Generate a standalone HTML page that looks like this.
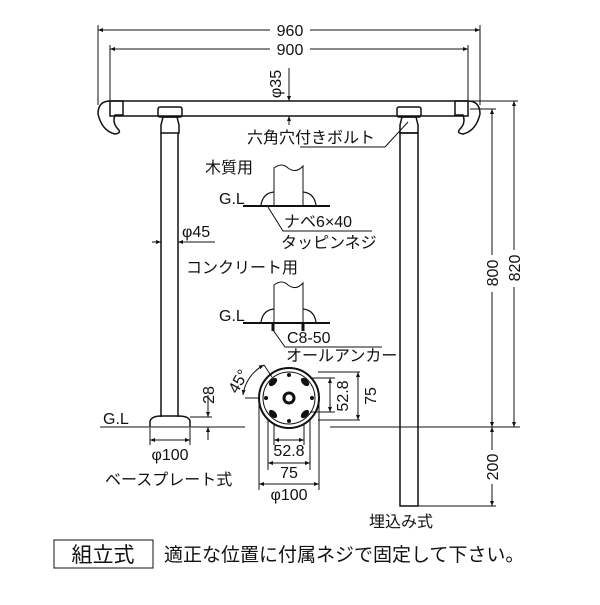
<!DOCTYPE html>
<html><head><meta charset="utf-8"><style>
body{margin:0;background:#fff}
svg text{font-family:"Liberation Sans","Noto Sans CJK JP",sans-serif;fill:#111}
</style></head><body>
<svg width="600" height="600" viewBox="0 0 600 600" xmlns="http://www.w3.org/2000/svg">
<defs><marker id="a" viewBox="0 0 10 10" refX="10" refY="5" markerWidth="7" markerHeight="5" orient="auto-start-reverse"><path d="M0,1 L10,5 L0,9 z" fill="#111"/></marker></defs>
<g stroke="#111" fill="none" stroke-width="1">
<line x1="98" y1="30" x2="270" y2="30" marker-start="url(#a)"/><line x1="310" y1="30" x2="480" y2="30" marker-end="url(#a)"/>
<line x1="98" y1="25" x2="98" y2="105"/><line x1="480" y1="25" x2="480" y2="105"/>
<line x1="110" y1="49" x2="270" y2="49" marker-start="url(#a)"/><line x1="310" y1="49" x2="468" y2="49" marker-end="url(#a)"/>
<line x1="110" y1="45" x2="110" y2="102"/><line x1="468" y1="45" x2="468" y2="102"/>
<line x1="289" y1="68" x2="289" y2="101" marker-end="url(#a)"/><line x1="289" y1="125" x2="289" y2="116" marker-end="url(#a)"/>
<rect x="110" y="101" width="358" height="15" stroke-width="1.5"/>
<path d="M110,101 h13 v14 h-8 q-3,8 3,14 q4,4 -3,5 q-13,-3 -17,-20 q0,-13 12,-13z" stroke-width="1.5"/>
<path d="M468,101 h-13 v14 h8 q3,8 -3,14 q-4,4 3,5 q13,-3 17,-20 q0,-13 -12,-13z" stroke-width="1.5"/>
<rect x="158" y="107" width="24" height="10" rx="2" stroke-width="1.5"/>
<path d="M163,117 l-2,8 q0,5 0,8 h18 q0,-3 0,-8 l-2,-8z" stroke-width="1.5"/>
<line x1="161" y1="133" x2="161" y2="417" stroke-width="1.5"/><line x1="178" y1="133" x2="178" y2="417" stroke-width="1.5"/>
<path d="M150,427 v-6 q2,-5 11,-5 h17 q11,0 12,5 v6" stroke-width="1.5"/>
<line x1="100" y1="427" x2="245" y2="427"/>
<line x1="190" y1="417" x2="212" y2="417"/>
<line x1="208" y1="395" x2="208" y2="417" marker-end="url(#a)"/><line x1="208" y1="440" x2="208" y2="427" marker-end="url(#a)"/>
<line x1="150" y1="428" x2="150" y2="445"/><line x1="190" y1="428" x2="190" y2="445"/>
<line x1="150" y1="440" x2="190" y2="440" marker-start="url(#a)" marker-end="url(#a)"/>
<line x1="152" y1="242" x2="161" y2="242" marker-end="url(#a)"/><line x1="215" y1="242" x2="178" y2="242" marker-end="url(#a)"/>
<rect x="397" y="107" width="24" height="10" rx="2" stroke-width="1.5"/>
<path d="M402,117 l-2,8 q0,5 0,8 h18 q0,-3 0,-8 l-2,-8z" stroke-width="1.5"/>
<rect x="400" y="133" width="18" height="373" stroke-width="1.5"/>
<line x1="330" y1="427" x2="520" y2="427"/>
<line x1="385" y1="147" x2="300" y2="147"/><line x1="385" y1="147" x2="408" y2="122"/>
<line x1="470" y1="109" x2="496" y2="109"/><line x1="470" y1="101" x2="518" y2="101"/>
<line x1="492" y1="255" x2="492" y2="109" marker-end="url(#a)"/><line x1="492" y1="292" x2="492" y2="427" marker-end="url(#a)"/>
<line x1="514" y1="250" x2="514" y2="101" marker-end="url(#a)"/><line x1="514" y1="287" x2="514" y2="427" marker-end="url(#a)"/>
<line x1="492" y1="450" x2="492" y2="427" marker-end="url(#a)"/><line x1="492" y1="484" x2="492" y2="506" marker-end="url(#a)"/>
<line x1="418" y1="506" x2="496" y2="506"/>
<path d="M274,205 V168 q8,-6 14,0 q8,6 15,-2 V205"/>
<path d="M261,205 q2,-12 13,-13 M303,192 q11,1 13,13" stroke-width="1.2"/>
<line x1="243" y1="206" x2="330" y2="206" stroke-width="2"/>
<path d="M268,207 L283,231 H372"/>
<path d="M274,322 V285 q8,-6 14,0 q8,6 15,-2 V322"/>
<path d="M261,322 q2,-12 13,-13 M303,309 q11,1 13,13" stroke-width="1.2"/>
<line x1="243" y1="323" x2="330" y2="323" stroke-width="2"/>
<line x1="273" y1="323" x2="273" y2="331" stroke-width="3"/><line x1="303" y1="323" x2="303" y2="331" stroke-width="3"/>
<path d="M273,330 L285,347 H382"/>
<circle cx="289" cy="398" r="30" stroke-width="2"/>
<circle cx="289" cy="398" r="26"/>
<circle cx="289" cy="398" r="5" stroke-width="3"/>
<line x1="259" y1="398" x2="259" y2="490"/><line x1="319" y1="398" x2="319" y2="490"/>
<line x1="268" y1="420" x2="268" y2="470"/><line x1="310" y1="420" x2="310" y2="470"/>
<line x1="274" y1="425" x2="274" y2="445"/><line x1="304" y1="425" x2="304" y2="445"/>
<line x1="274" y1="440" x2="304" y2="440" marker-start="url(#a)" marker-end="url(#a)"/>
<line x1="268" y1="463" x2="310" y2="463" marker-start="url(#a)" marker-end="url(#a)"/>
<line x1="259" y1="484" x2="319" y2="484" marker-start="url(#a)" marker-end="url(#a)"/>
<line x1="310" y1="378" x2="335" y2="378"/><line x1="310" y1="412" x2="335" y2="412"/>
<line x1="318" y1="372" x2="360" y2="372"/><line x1="318" y1="420" x2="360" y2="420"/>
<line x1="330" y1="378" x2="330" y2="412" marker-start="url(#a)" marker-end="url(#a)"/>
<line x1="358" y1="372" x2="358" y2="420" marker-start="url(#a)" marker-end="url(#a)"/>
<path d="M264,365 A40,40 0 0 0 243,395" marker-start="url(#a)" marker-end="url(#a)"/>
<line x1="245" y1="398" x2="259" y2="398"/><line x1="264" y1="365" x2="272" y2="377"/>
<rect x="54" y="540" width="99" height="28"/>
</g>
<g fill="#111">
<circle cx="289" cy="375" r="2"/><circle cx="289" cy="421" r="2"/><circle cx="266" cy="398" r="2"/><circle cx="312" cy="398" r="2"/>
<ellipse cx="273" cy="382" rx="3" ry="5" transform="rotate(45 273 382)"/><ellipse cx="305" cy="382" rx="3" ry="5" transform="rotate(-45 305 382)"/>
<ellipse cx="273" cy="414" rx="3" ry="5" transform="rotate(-45 273 414)"/><ellipse cx="305" cy="414" rx="3" ry="5" transform="rotate(45 305 414)"/>
</g>
<g font-size="16">
<text x="290" y="36" text-anchor="middle">960</text>
<text x="290" y="55" text-anchor="middle">900</text>
<text transform="translate(281,84) rotate(-90)" text-anchor="middle">φ35</text>
<text x="247" y="143">六角穴付きボルト</text>
<text x="205" y="173">木質用</text>
<text x="219" y="204">G.L</text>
<text x="284" y="227">ナベ6×40</text>
<text x="281" y="248">タッピンネジ</text>
<text x="182" y="237">φ45</text>
<text x="186" y="273">コンクリート用</text>
<text x="219" y="321">G.L</text>
<text x="287" y="343">C8-50</text>
<text x="286" y="361">オールアンカー</text>
<text transform="translate(243,384) rotate(-60)" text-anchor="middle">45°</text>
<text transform="translate(214,395) rotate(-90)" text-anchor="middle">28</text>
<text x="103" y="424">G.L</text>
<text x="170" y="460" text-anchor="middle">φ100</text>
<text x="105" y="485">ベースプレート式</text>
<text x="289" y="456" text-anchor="middle">52.8</text>
<text x="289" y="478" text-anchor="middle">75</text>
<text x="289" y="500" text-anchor="middle">φ100</text>
<text transform="translate(348,396) rotate(-90)" text-anchor="middle">52.8</text>
<text transform="translate(376,396) rotate(-90)" text-anchor="middle">75</text>
<text transform="translate(498,273) rotate(-90)" text-anchor="middle">800</text>
<text transform="translate(520,268) rotate(-90)" text-anchor="middle">820</text>
<text transform="translate(498,467) rotate(-90)" text-anchor="middle">200</text>
<text x="369" y="527">埋込み式</text>
</g>
<text x="103" y="562" font-size="21" text-anchor="middle">組立式</text>
<text x="164" y="561" font-size="19">適正な位置に付属ネジで固定して下さい。</text>
</svg>
</body></html>
